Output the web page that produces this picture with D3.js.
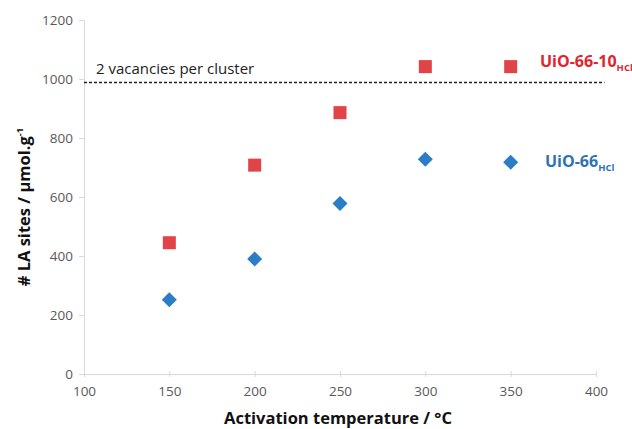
<!DOCTYPE html>
<html>
<head>
<meta charset="utf-8">
<script src="https://cdn.jsdelivr.net/npm/d3@7"></script>
<style>
  body { margin: 0; background: #fff; }
  svg text { font-family: "Open Sans", "Liberation Sans", sans-serif; }
</style>
</head>
<body>
<div id="container"></div>
<script>
// activation temperatures (°C)
const temps = [150, 200, 250, 300, 350];
// # LA sites, µmol/g
const uio6610 = [445, 708, 886, 1042, 1042];
const uio66 = [252, 390, 578, 728, 718];
const vacancyLine = 988;
const xTicks = [100, 150, 200, 250, 300, 350, 400];
const yTicks = [0, 200, 400, 600, 800, 1000, 1200];

const width = 632, height = 429;
const plotLeft = 84, plotRight = 596, plotTop = 20, plotBottom = 374;

const svg = d3.select("#container").append("svg")
    .attr("width", width)
    .attr("height", height);

const x = d3.scaleLinear([100, 400], [plotLeft, plotRight]);
const y = d3.scaleLinear([0, 1200], [plotBottom, plotTop]);

// y axis
const yAxis = svg.append("g")
    .attr("transform", `translate(${plotLeft},0)`)
    .call(d3.axisLeft(y).tickValues(yTicks).tickFormat(d3.format("d")).tickSize(5).tickPadding(6));
yAxis.select(".domain").attr("stroke", "#d9d9d9");
yAxis.selectAll(".tick line").attr("stroke", "#d9d9d9");
yAxis.selectAll("text")
    .attr("fill", "#595959")
    .style("font-size", "13.5px");

// x axis
const xAxis = svg.append("g")
    .attr("transform", `translate(0,${plotBottom})`)
    .call(d3.axisBottom(x).tickValues(xTicks).tickFormat(d3.format("d")).tickSize(3).tickPadding(9));
xAxis.select(".domain").attr("stroke", "#d9d9d9");
xAxis.selectAll(".tick line").attr("stroke", "#d9d9d9").attr("y1", -3);
xAxis.selectAll("text")
    .attr("fill", "#595959")
    .style("font-size", "13.5px");

// dashed reference line
svg.append("line")
    .attr("x1", x(100)).attr("x2", x(405))
    .attr("y1", y(vacancyLine)).attr("y2", y(vacancyLine))
    .attr("stroke", "#222")
    .attr("stroke-width", 1.5)
    .attr("stroke-dasharray", "3,2");

svg.append("text")
    .attr("x", x(107))
    .attr("y", y(vacancyLine) - 9)
    .attr("fill", "#222")
    .style("font-size", "15px")
    .text("2 vacancies per cluster");

// red squares
const sq = 13;
svg.selectAll("rect.red")
    .data(temps)
    .enter().append("rect")
        .attr("class", "red")
        .attr("x", (d) => x(d) - sq / 2)
        .attr("y", (d, i) => y(uio6610[i]) - sq / 2)
        .attr("width", sq)
        .attr("height", sq)
        .attr("fill", "#e04448");

// blue diamonds
const dm = 7.5;
svg.selectAll("path.blue")
    .data(temps)
    .enter().append("path")
        .attr("class", "blue")
        .attr("d", (d, i) => {
            const cx = x(d), cy = y(uio66[i]);
            return `M${cx},${cy - dm}L${cx + dm},${cy}L${cx},${cy + dm}L${cx - dm},${cy}Z`;
        })
        .attr("fill", "#2b7dc6");

// series labels
const lab1 = svg.append("text")
    .attr("x", 540).attr("y", 67)
    .attr("fill", "#e2232e")
    .style("font-size", "16px")
    .style("font-weight", "bold");
lab1.append("tspan").text("UiO-66-10");
lab1.append("tspan").attr("dy", 4).style("font-size", "9.5px").text("HCl");

const lab2 = svg.append("text")
    .attr("x", 545).attr("y", 167)
    .attr("fill", "#2f72b3")
    .style("font-size", "16px")
    .style("font-weight", "bold");
lab2.append("tspan").text("UiO-66");
lab2.append("tspan").attr("dy", 4).style("font-size", "9.5px").text("HCl");

// axis titles
svg.append("text")
    .attr("x", (plotLeft + plotRight) / 2 - 2)
    .attr("y", 424)
    .attr("text-anchor", "middle")
    .attr("fill", "#111")
    .style("font-size", "16.5px")
    .style("font-weight", "bold")
    .text("Activation temperature / °C");

const yt = svg.append("text")
    .attr("transform", `translate(30,${(plotTop + plotBottom) / 2 + 10}) rotate(-90)`)
    .attr("text-anchor", "middle")
    .attr("fill", "#111")
    .style("font-size", "16.5px")
    .style("font-weight", "bold");
yt.append("tspan").text("# LA sites / µmol.g");
yt.append("tspan").attr("dy", -7).style("font-size", "9.5px").text("-1");
</script>
</body>
</html>
